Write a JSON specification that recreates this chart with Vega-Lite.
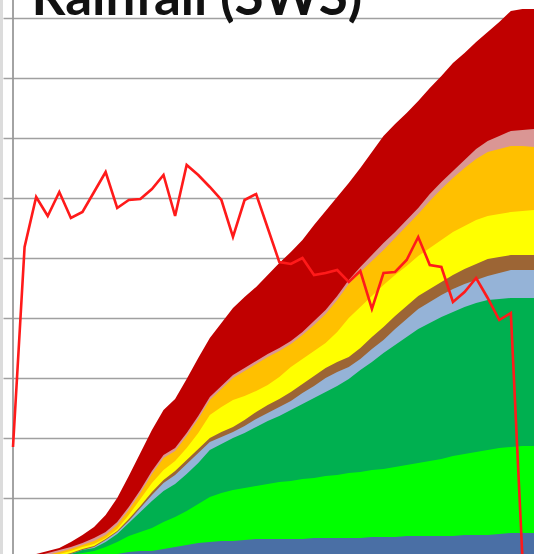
{
  "$schema": "https://vega.github.io/schema/vega-lite/v6.json",
  "width": 531,
  "height": 558,
  "autosize": {"type": "none"},
  "padding": {"left": 3, "top": 0, "right": 0, "bottom": 0},
  "background": "#dcdcdc",
  "config": {"view": {"fill": "white", "stroke": null}},
  "datasets": {
    "series": [
      {"i": 0, "rd": 0, "pk": 0, "or": 0, "ye": 0, "br": 0, "lb": 0, "g": 0, "bg": 0, "bl": 0, "pct": 111},
      {"i": 1, "rd": 2, "pk": 0, "or": 0, "ye": 0, "br": 0, "lb": 0, "g": 0, "bg": 0, "bl": 0, "pct": 311},
      {"i": 2, "rd": 4, "pk": 2, "or": 1, "ye": 0, "br": 0, "lb": 0, "g": 0, "bg": 0, "bl": 0, "pct": 361},
      {"i": 3, "rd": 7, "pk": 5, "or": 3, "ye": 2, "br": 1, "lb": 1, "g": 0, "bg": 0, "bl": 0, "pct": 342},
      {"i": 4, "rd": 10, "pk": 8, "or": 6, "ye": 4, "br": 2, "lb": 2, "g": 1, "bg": 1, "bl": 0, "pct": 366},
      {"i": 5, "rd": 16, "pk": 11, "or": 9, "ye": 7, "br": 5, "lb": 4, "g": 4, "bg": 3, "bl": 0, "pct": 340},
      {"i": 6, "rd": 23, "pk": 15, "or": 13, "ye": 11, "br": 9, "lb": 8, "g": 8, "bg": 5, "bl": 0, "pct": 346},
      {"i": 7, "rd": 31, "pk": 20, "or": 17, "ye": 14, "br": 12, "lb": 11, "g": 10, "bg": 7, "bl": 1, "pct": 366},
      {"i": 8, "rd": 43, "pk": 26, "or": 23, "ye": 20, "br": 19, "lb": 18, "g": 16, "bg": 11, "bl": 2, "pct": 386},
      {"i": 9, "rd": 60, "pk": 36, "or": 33, "ye": 29, "br": 27, "lb": 26, "g": 24, "bg": 16, "bl": 4, "pct": 350},
      {"i": 10, "rd": 82, "pk": 51, "or": 48, "ye": 43, "br": 39, "lb": 37, "g": 35, "bg": 22, "bl": 6, "pct": 358},
      {"i": 11, "rd": 105, "pk": 68, "or": 65, "ye": 59, "br": 52, "lb": 50, "g": 46, "bg": 26, "bl": 7, "pct": 359},
      {"i": 12, "rd": 128, "pk": 87, "or": 84, "ye": 75, "br": 66, "lb": 63, "g": 57, "bg": 30, "bl": 7, "pct": 369},
      {"i": 13, "rd": 148, "pk": 103, "or": 100, "ye": 88, "br": 78, "lb": 75, "g": 67, "bg": 36, "bl": 9, "pct": 383},
      {"i": 14, "rd": 159, "pk": 110, "or": 107, "ye": 97, "br": 87, "lb": 83, "g": 74, "bg": 41, "bl": 11, "pct": 342},
      {"i": 15, "rd": 179, "pk": 125, "or": 122, "ye": 110, "br": 98, "lb": 94, "g": 84, "bg": 47, "bl": 13, "pct": 393},
      {"i": 16, "rd": 200, "pk": 142, "or": 139, "ye": 125, "br": 109, "lb": 105, "g": 95, "bg": 54, "bl": 15, "pct": 383},
      {"i": 17, "rd": 220, "pk": 161, "or": 158, "ye": 143, "br": 120, "lb": 116, "g": 108, "bg": 61, "bl": 16, "pct": 371},
      {"i": 18, "rd": 235, "pk": 172, "or": 169, "ye": 151, "br": 126, "lb": 121, "g": 114, "bg": 65, "bl": 17, "pct": 358},
      {"i": 19, "rd": 250, "pk": 183, "or": 180, "ye": 158, "br": 131, "lb": 126, "g": 120, "bg": 68, "bl": 17, "pct": 321},
      {"i": 20, "rd": 261, "pk": 190, "or": 187, "ye": 162, "br": 138, "lb": 132, "g": 125, "bg": 70, "bl": 18, "pct": 358},
      {"i": 21, "rd": 271, "pk": 197, "or": 194, "ye": 167, "br": 146, "lb": 139, "g": 131, "bg": 72, "bl": 19, "pct": 364},
      {"i": 22, "rd": 283, "pk": 204, "or": 201, "ye": 173, "br": 153, "lb": 145, "g": 137, "bg": 74, "bl": 19, "pct": 330},
      {"i": 23, "rd": 295, "pk": 210, "or": 207, "ye": 181, "br": 159, "lb": 151, "g": 142, "bg": 76, "bl": 19, "pct": 296},
      {"i": 24, "rd": 306, "pk": 217, "or": 214, "ye": 191, "br": 166, "lb": 157, "g": 148, "bg": 77, "bl": 19, "pct": 294},
      {"i": 25, "rd": 318, "pk": 226, "or": 223, "ye": 199, "br": 174, "lb": 165, "g": 154, "bg": 79, "bl": 19, "pct": 300},
      {"i": 26, "rd": 333, "pk": 237, "or": 233, "ye": 207, "br": 182, "lb": 172, "g": 160, "bg": 80, "bl": 20, "pct": 283},
      {"i": 27, "rd": 347, "pk": 248, "or": 244, "ye": 215, "br": 190, "lb": 180, "g": 166, "bg": 82, "bl": 20, "pct": 285},
      {"i": 28, "rd": 361, "pk": 262, "or": 258, "ye": 226, "br": 196, "lb": 186, "g": 172, "bg": 83, "bl": 20, "pct": 288},
      {"i": 29, "rd": 375, "pk": 278, "or": 274, "ye": 240, "br": 201, "lb": 191, "g": 179, "bg": 85, "bl": 20, "pct": 276},
      {"i": 30, "rd": 390, "pk": 291, "or": 286, "ye": 251, "br": 210, "lb": 199, "g": 188, "bg": 86, "bl": 20, "pct": 287},
      {"i": 31, "rd": 406, "pk": 303, "or": 297, "ye": 262, "br": 221, "lb": 209, "g": 196, "bg": 88, "bl": 21, "pct": 249},
      {"i": 32, "rd": 422, "pk": 315, "or": 308, "ye": 273, "br": 231, "lb": 218, "g": 205, "bg": 89, "bl": 21, "pct": 285},
      {"i": 33, "rd": 434, "pk": 326, "or": 320, "ye": 283, "br": 242, "lb": 229, "g": 213, "bg": 91, "bl": 21, "pct": 286},
      {"i": 34, "rd": 445, "pk": 338, "or": 332, "ye": 292, "br": 252, "lb": 239, "g": 221, "bg": 93, "bl": 22, "pct": 298},
      {"i": 35, "rd": 457, "pk": 350, "or": 344, "ye": 302, "br": 262, "lb": 249, "g": 229, "bg": 95, "bl": 22, "pct": 321},
      {"i": 36, "rd": 470, "pk": 364, "or": 357, "ye": 310, "br": 269, "lb": 256, "g": 235, "bg": 97, "bl": 22, "pct": 293},
      {"i": 37, "rd": 482, "pk": 376, "or": 369, "ye": 318, "br": 276, "lb": 263, "g": 241, "bg": 99, "bl": 22, "pct": 291},
      {"i": 38, "rd": 495, "pk": 387, "or": 380, "ye": 326, "br": 283, "lb": 269, "g": 246, "bg": 102, "bl": 22, "pct": 256},
      {"i": 39, "rd": 505, "pk": 398, "or": 390, "ye": 332, "br": 289, "lb": 274, "g": 251, "bg": 104, "bl": 23, "pct": 266},
      {"i": 40, "rd": 516, "pk": 409, "or": 399, "ye": 338, "br": 294, "lb": 278, "g": 255, "bg": 106, "bl": 23, "pct": 280},
      {"i": 41, "rd": 526, "pk": 417, "or": 406, "ye": 342, "br": 299, "lb": 282, "g": 258, "bg": 108, "bl": 23, "pct": 260},
      {"i": 42, "rd": 536, "pk": 422, "or": 409, "ye": 344, "br": 301, "lb": 285, "g": 259, "bg": 110, "bl": 24, "pct": 238},
      {"i": 43, "rd": 547, "pk": 427, "or": 412, "ye": 346, "br": 303, "lb": 288, "g": 260, "bg": 111, "bl": 25, "pct": 245},
      {"i": 44, "rd": 549, "pk": 428, "or": 412, "ye": 347, "br": 303, "lb": 288, "g": 260, "bg": 112, "bl": 25, "pct": 0},
      {"i": 45, "rd": 549, "pk": 429, "or": 411, "ye": 348, "br": 303, "lb": 288, "g": 260, "bg": 112, "bl": 25, "pct": null}
    ]
  },
  "layer": [
    {
      "data": {"name": "series"},
      "transform": [{"fold": ["rd", "pk", "or", "ye", "br", "lb", "g", "bg", "bl"], "as": ["layer", "h"]}],
      "mark": {"type": "area", "interpolate": "linear"},
      "encoding": {
        "x": {"field": "i", "type": "quantitative", "scale": {"domain": [-0.864, 45], "nice": false, "zero": false}, "axis": null},
        "y": {
          "field": "h", "type": "quantitative", "stack": null,
          "scale": {"domain": [0, 558], "nice": false},
          "axis": {"values": [60, 120, 180, 240, 300, 360, 420, 480, 540], "grid": true, "gridColor": "#a0a0a0", "gridWidth": 1.6, "domain": false, "ticks": false, "labels": false, "title": null}
        },
        "color": {
          "field": "layer", "type": "nominal", "legend": null,
          "scale": {
            "domain": ["rd", "pk", "or", "ye", "br", "lb", "g", "bg", "bl"],
            "range": ["#c00000", "#da9694", "#ffc000", "#ffff00", "#9c6535", "#95b3d7", "#00b050", "#00ff00", "#4a6fa5"]
          }
        }
      }
    },
    {
      "data": {"values": [{}]},
      "mark": {"type": "rule", "color": "#9a9a9a", "strokeWidth": 1.8},
      "encoding": {"x": {"datum": 0}}
    },
    {
      "data": {"name": "series"},
      "mark": {"type": "line", "color": "#ff1a1a", "strokeWidth": 2.6},
      "encoding": {
        "x": {"field": "i", "type": "quantitative"},
        "y": {"field": "pct", "type": "quantitative"}
      }
    },
    {
      "data": {"values": [{"t": "Rainfall (SWS)"}]},
      "mark": {"type": "text", "align": "left", "baseline": "alphabetic", "font": "Lato", "fontWeight": "bold", "fontSize": 53, "color": "#111111"},
      "encoding": {
        "x": {"datum": 1.6},
        "y": {"datum": 543},
        "text": {"field": "t"}
      }
    }
  ]
}
